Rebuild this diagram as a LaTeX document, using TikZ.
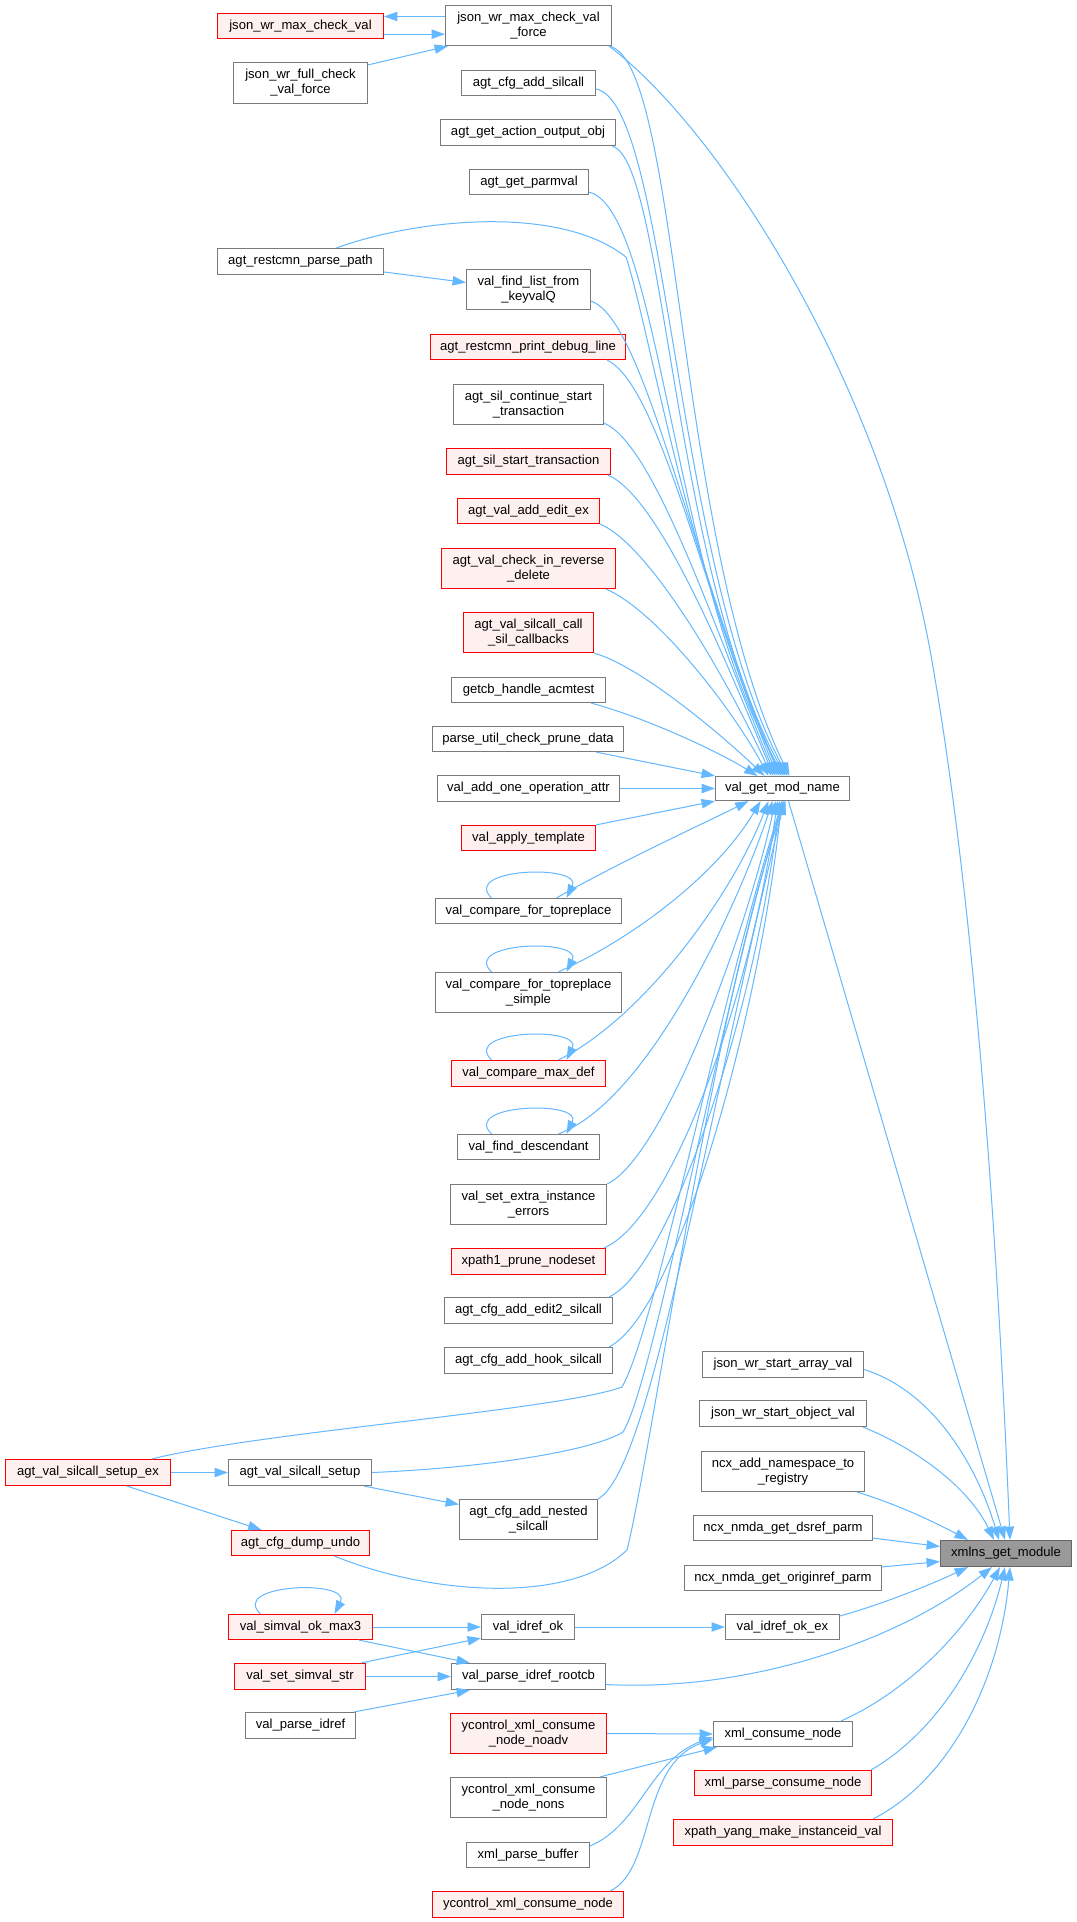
\documentclass[tikz,border=0pt]{standalone}
\usepackage{fontspec}
\setmainfont{Liberation Sans}
\usetikzlibrary{arrows.meta,calc}
\definecolor{edgec}{HTML}{63B8FF}
\definecolor{nbord}{HTML}{7A7A7A}
\definecolor{rbord}{HTML}{FF0000}
\definecolor{rfill}{HTML}{FFF0F0}
\definecolor{mfill}{HTML}{999999}
\definecolor{mbord}{HTML}{666666}
\newcommand\gnode[7]{%
 \pgfmathsetmacro\gxa{round(#2)+0.5}\pgfmathsetmacro\gya{round(#3)+0.5}%
 \pgfmathsetmacro\gxb{round(#4)+0.5}\pgfmathsetmacro\gyb{round(#5)+0.5}%
 \pgfmathsetmacro\gw{(\gxb-\gxa)*0.75}%
 \pgfmathsetmacro\gh{(\gyb-\gya)*0.75}%
 \node[#6, minimum width=\gw pt, minimum height=\gh pt] (#1) at ({(\gxa+\gxb)/2},{(\gya+\gyb)/2}) {#7};}
\tikzset{
 box/.style={draw=nbord, fill=white, line width=0.9pt, inner sep=0pt, align=center, font=\fontsize{9.8pt}{11.2pt}\selectfont},
 rbox/.style={box, draw=rbord, fill=rfill},
 mbox/.style={box, draw=mbord, fill=mfill},
 edg/.style={draw=edgec, line width=0.75pt, -{Triangle[length=10pt,width=7pt]}}
}
\begin{document}
\begin{tikzpicture}[x=0.75pt, y=-0.75pt]
\fill[white] (0,0) rectangle (1076,1922);
\useasboundingbox (0,0) rectangle (1076,1922);
% left column
\gnode{jmcv}{216.8}{12.7}{382.7}{38.3}{rbox}{json\_wr\_max\_check\_val}
\gnode{jfcvf}{233}{62.3}{366.9}{102.7}{box}{json\_wr\_full\_check\\\_val\_force}
\gnode{arpp}{216.8}{248.3}{382.7}{274}{box}{agt\_restcmn\_parse\_path}
\gnode{avsse}{5}{1459.3}{169.6}{1484.7}{rbox}{agt\_val\_silcall\_setup\_ex}
\gnode{avss}{228.4}{1459.3}{371}{1484.7}{box}{agt\_val\_silcall\_setup}
\gnode{acdu}{230.5}{1529.7}{369.4}{1555.3}{rbox}{agt\_cfg\_dump\_undo}
\gnode{vsom}{227.6}{1613.7}{372.3}{1639.3}{rbox}{val\_simval\_ok\_max3}
\gnode{vsss}{234.2}{1663.3}{365.3}{1689}{rbox}{val\_set\_simval\_str}
\gnode{vpi}{244.6}{1712.3}{355.3}{1738}{box}{val\_parse\_idref}
% middle column
\gnode{jmcvf}{444.9}{5}{610.7}{45}{box}{json\_wr\_max\_check\_val\\\_force}
\gnode{acas}{461}{69.7}{595}{95.3}{box}{agt\_cfg\_add\_silcall}
\gnode{agaoo}{440.3}{119}{615.3}{144.7}{box}{agt\_get\_action\_output\_obj}
\gnode{agp}{468.5}{168.7}{587.5}{194}{box}{agt\_get\_parmval}
\gnode{vflfk}{466}{269}{590}{309}{box}{val\_find\_list\_from\\\_keyvalQ}
\gnode{arpdl}{430.3}{333.7}{625.2}{359.3}{rbox}{agt\_restcmn\_print\_debug\_line}
\gnode{ascst}{453.2}{383.7}{602.8}{424}{box}{agt\_sil\_continue\_start\\\_transaction}
\gnode{asst}{445.7}{448.3}{610.3}{474.3}{rbox}{agt\_sil\_start\_transaction}
\gnode{avaee}{456.9}{497.7}{599.1}{523.3}{rbox}{agt\_val\_add\_edit\_ex}
\gnode{avcird}{440.7}{547.7}{614.8}{588}{rbox}{agt\_val\_check\_in\_reverse\\\_delete}
\gnode{avscc}{462.7}{611.7}{593.3}{652}{rbox}{agt\_val\_silcall\_call\\\_sil\_callbacks}
\gnode{gha}{451}{676.7}{604.5}{702.3}{box}{getcb\_handle\_acmtest}
\gnode{pucpd}{432.4}{725.7}{623.1}{751}{box}{parse\_util\_check\_prune\_data}
\gnode{vaooa}{437}{775}{618.6}{800.7}{box}{val\_add\_one\_operation\_attr}
\gnode{vat}{460.6}{824.7}{595.4}{850}{rbox}{val\_apply\_template}
\gnode{vcft}{434.9}{897.7}{620.6}{923.3}{box}{val\_compare\_for\_topreplace}
\gnode{vcfts}{434.9}{971.7}{620.6}{1012}{box}{val\_compare\_for\_topreplace\\\_simple}
\gnode{vcmd}{451}{1060.3}{604.9}{1086.3}{rbox}{val\_compare\_max\_def}
\gnode{vfd}{456.9}{1133.7}{599}{1159.3}{box}{val\_find\_descendant}
\gnode{vseie}{449.8}{1183.7}{606.1}{1224}{box}{val\_set\_extra\_instance\\\_errors}
\gnode{xpn}{451}{1248.3}{605}{1274}{rbox}{xpath1\_prune\_nodeset}
\gnode{acae}{444}{1297.3}{612}{1323}{box}{agt\_cfg\_add\_edit2\_silcall}
\gnode{acah}{444}{1347}{612}{1372.7}{box}{agt\_cfg\_add\_hook\_silcall}
\gnode{acan}{458.5}{1498.7}{597.4}{1538.7}{box}{agt\_cfg\_add\_nested\\\_silcall}
\gnode{vio}{481.3}{1613.7}{574.2}{1639.3}{box}{val\_idref\_ok}
\gnode{vpir}{451}{1663.3}{605}{1689}{box}{val\_parse\_idref\_rootcb}
\gnode{yxna}{449.8}{1713}{606.1}{1753.3}{rbox}{ycontrol\_xml\_consume\\\_node\_noadv}
\gnode{yxnn}{449.8}{1777}{606.1}{1817}{box}{ycontrol\_xml\_consume\\\_node\_nons}
\gnode{xpb}{466.4}{1841.7}{589.1}{1867.3}{box}{xml\_parse\_buffer}
\gnode{yxcn}{432.4}{1891}{623.1}{1916.7}{rbox}{ycontrol\_xml\_consume\_node}
% third column
\gnode{vgm}{715}{775.7}{849.3}{800.3}{box}{val\_get\_mod\_name}
\gnode{jwsa}{702.3}{1351.3}{862.7}{1376.7}{box}{json\_wr\_start\_array\_val}
\gnode{jwso}{699}{1400.3}{866}{1426}{box}{json\_wr\_start\_object\_val}
\gnode{ncxa}{701}{1450.7}{864}{1490.7}{box}{ncx\_add\_namespace\_to\\\_registry}
\gnode{ncxd}{693}{1515.3}{872}{1540.3}{box}{ncx\_nmda\_get\_dsref\_parm}
\gnode{ncxo}{684.3}{1564.7}{880.7}{1589.7}{box}{ncx\_nmda\_get\_originref\_parm}
\gnode{vioe}{725.3}{1613.7}{839.3}{1639.3}{box}{val\_idref\_ok\_ex}
\gnode{xcn}{712.7}{1720.7}{852}{1745.7}{box}{xml\_consume\_node}
\gnode{xpcn}{693.7}{1769.7}{871.3}{1795.3}{rbox}{xml\_parse\_consume\_node}
\gnode{xymi}{673}{1819}{892}{1844.7}{rbox}{xpath\_yang\_make\_instanceid\_val}
% callee
\gnode{xgm}{939.7}{1540.3}{1070.7}{1565.7}{mbox}{xmlns\_get\_module}

% ---- edges: top-left cluster
\draw[edg] ($(jmcvf.west)+(0,-9)$) -- ($(jmcv.east)+(0,-9.5)$);
\draw[edg] ($(jmcv.east)+(0,8.2)$) -- ($(jmcvf.west)+(0,8.7)$);
\draw[edg] ($(jfcvf.north east)+(0,3)$) -- ($(jmcvf.south west)+(3,0)$);
\draw[edg] ($(arpp.east)+(0,10.5)$) -- ($(vflfk.west)+(0,-7)$);

% ---- edges into val_get_mod_name from above
\draw[edg] ($(jmcvf.south east)+(-3,0)$) .. controls (680,60) and (675,540) .. ($(vgm.north)+(7,0)$);
\draw[edg] ($(acas.east)+(0,6)$) .. controls (668,103) and (673,560) .. ($(vgm.north)+(5,0)$);
\draw[edg] ($(agaoo.south east)+(-4,0)$) .. controls (665,160) and (672,570) .. ($(vgm.north)+(3,0)$);
\draw[edg] ($(agp.south east)+(0,-3)$) .. controls (660,210) and (672,580) .. ($(vgm.north)+(1,0)$);
\draw[edg] ($(arpp.north)+(36,0)$) .. controls (420,218) and (560,205) .. (626,257) .. controls (650,330) and (690,580) .. ($(vgm.north)+(-1,0)$);
\draw[edg] ($(vflfk.south east)+(0,-9)$) .. controls (645,320) and (690,560) .. ($(vgm.north)+(-3,0)$);
\draw[edg] ($(arpdl.south east)+(-19,0)$) .. controls (660,385) and (705,600) .. ($(vgm.north)+(-5,0)$);
\draw[edg] ($(ascst.south east)+(0,-2)$) .. controls (655,445) and (715,630) .. ($(vgm.north)+(-7,0)$);
\draw[edg] ($(asst.south east)+(-3,0)$) .. controls (658,497) and (722,650) .. ($(vgm.north)+(-9,0)$);
\draw[edg] (avaee.south east) .. controls (650,545) and (728,680) .. ($(vgm.north)+(-11,0)$);
\draw[edg] ($(avcird.south east)+(-10,0)$) .. controls (655,610) and (730,705) .. ($(vgm.north)+(-14,0)$);
\draw[edg] (avscc.south east) .. controls (640,666) and (722,735) .. ($(vgm.north)+(-18,0)$);
\draw[edg] ($(gha.south east)+(-15,0)$) .. controls (640,716) and (712,748) .. ($(vgm.north)+(-25,0)$);
\draw[edg] ($(pucpd.south east)+(-28,0)$) -- (vgm.north west);
\draw[edg] (vaooa.east) -- (vgm.west);
\draw[edg] (vat.north east) -- (vgm.south west);

% ---- self loops
\foreach \n in {vcft,vcfts,vcmd,vfd}{
 \draw[edg] ($(\n.north)+(-37,0)$) .. controls ($(\n.north)+(-68,-30)$) and ($(\n.north)+(55,-34)$) .. ($(\n.north)+(38,0)$);
}
\draw[edg] ($(vsom.north)+(-40,0)$) .. controls ($(vsom.north)+(-72,-30)$) and ($(vsom.north)+(52,-35)$) .. ($(vsom.north)+(34,0)$);

% ---- edges into val_get_mod_name from below
\draw[edg] ($(vcft.north)+(28,0)$) .. controls (620,862) and (690,830) .. ($(vgm.south)+(-34,0)$);
\draw[edg] ($(vcfts.north)+(30,0)$) .. controls (640,935) and (720,870) .. ($(vgm.south)+(-22,0)$);
\draw[edg] ($(vcmd.north)+(30,0)$) .. controls (640,1020) and (730,900) .. ($(vgm.south)+(-14,0)$);
\draw[edg] ($(vfd.north)+(30,0)$) .. controls (650,1100) and (740,900) .. ($(vgm.south)+(-10,0)$);
\draw[edg] (vseie.north east) .. controls (660,1160) and (742,950) .. ($(vgm.south)+(-7,0)$);
\draw[edg] ($(xpn.north east)+(-2,0)$) .. controls (670,1220) and (750,1000) .. ($(vgm.south)+(-5,0)$);
\draw[edg] ($(acae.north east)+(-4,0)$) .. controls (672,1268) and (758,1000) .. ($(vgm.south)+(-3,0)$);
\draw[edg] ($(acah.north east)+(-4,0)$) .. controls (680,1310) and (762,1000) .. ($(vgm.south)+(-1,0)$);
\draw[edg] ($(avsse.north)+(64,0)$) .. controls (260,1432) and (560,1410) .. (622,1387) .. controls (655,1330) and (720,1000) .. ($(vgm.south)+(0,0)$);
\draw[edg] (avss.east) .. controls (480,1468) and (590,1452) .. (623,1432) .. controls (655,1380) and (722,1000) .. ($(vgm.south)+(1,0)$);
\draw[edg] (acan.north east) .. controls (650,1470) and (700,1150) .. ($(vgm.south)+(2,0)$);
\draw[edg] ($(acdu.south)+(34,0)$) .. controls (430,1595) and (570,1605) .. (627,1550) .. controls (652,1450) and (715,1000) .. ($(vgm.south)+(3,0)$);

% ---- lower-left cluster
\draw[edg] (avsse.east) -- (avss.west);
\draw[edg] ($(avsse.south)+(39,0)$) -- ($(acdu.north)+(-39,0)$);
\draw[edg] ($(avss.south east)+(-8,0)$) -- ($(acan.west)+(0,-15)$);
\draw[edg] (vsom.east) -- (vio.west);
\draw[edg] ($(vsom.south east)+(-14,0)$) -- ($(vpir.north west)+(19,0)$);
\draw[edg] ($(vsss.north east)+(-5,0)$) -- ($(vio.south west)+(0,-2)$);
\draw[edg] (vsss.east) -- (vpir.west);
\draw[edg] ($(vpi.north east)+(-2,0)$) -- ($(vpir.south west)+(19,0)$);
\draw[edg] (vio.east) -- (vioe.west);
\draw[edg] (yxna.east) -- (xcn.west);
\draw[edg] ($(yxnn.north east)+(-7,0)$) -- ($(xcn.south west)+(4,0)$);
\draw[edg] ($(xpb.north east)+(0,4)$) .. controls (640,1825) and (650,1760) .. ($(xcn.west)+(0,3)$);
\draw[edg] ($(yxcn.north east)+(-14,0)$) .. controls (655,1870) and (640,1765) .. ($(xcn.west)+(0,5)$);

% ---- edges into xmlns_get_module
\draw[edg] ($(jmcvf.south east)+(-3,0)$) .. controls (720,130) and (880,380) .. (930,650) .. controls (975,900) and (998,1250) .. ($(xgm.north)+(4,0)$);
\draw[edg] ($(vgm.south)+(6,0)$) -- ($(xgm.north)+(-1,0)$);
\draw[edg] ($(jwsa.east)+(0,5)$) .. controls (930,1390) and (975,1460) .. ($(xgm.north)+(-7,0)$);
\draw[edg] ($(jwso.south east)+(-4,0)$) .. controls (920,1450) and (970,1490) .. ($(xgm.north)+(-12,0)$);
\draw[edg] ($(ncxa.south east)+(-8,0)$) .. controls (900,1505) and (940,1525) .. ($(xgm.north west)+(28,0)$);
\draw[edg] ($(ncxd.south east)+(0,-3)$) -- ($(xgm.west)+(0,-7)$);
\draw[edg] ($(ncxo.north east)+(0,2)$) -- ($(xgm.west)+(0,8)$);
\draw[edg] ($(vioe.north east)+(0,2)$) .. controls (880,1605) and (930,1585) .. ($(xgm.south west)+(28,0)$);
\draw[edg] ($(vpir.east)+(0,8)$) .. controls (750,1692) and (900,1640) .. ($(xgm.south)+(-14,0)$);
\draw[edg] ($(xcn.north east)+(-12,0)$) .. controls (900,1695) and (960,1640) .. ($(xgm.south)+(-6,0)$);
\draw[edg] ($(xpcn.north east)+(-1,0)$) .. controls (940,1730) and (985,1650) .. ($(xgm.south)+(-1,0)$);
\draw[edg] ($(xymi.north)+(90,0)$) .. controls (950,1780) and (1000,1680) .. ($(xgm.south)+(4,0)$);
\end{tikzpicture}
\end{document}
